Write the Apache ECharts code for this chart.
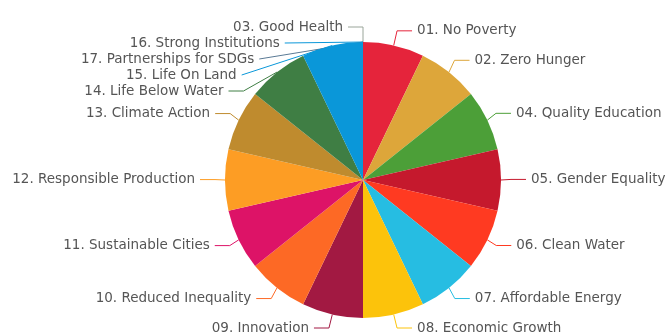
<!DOCTYPE html>
<html>
<head>
<meta charset="utf-8">
<script src="https://cdn.jsdelivr.net/npm/echarts@6/dist/echarts.min.js"></script>
<style>html,body{margin:0;padding:0;background:#fff}#chart{width:669px;height:336px}</style>
</head>
<body>
<div id="chart"></div>
<script>
const categories = [
  '01. No Poverty', '02. Zero Hunger', '04. Quality Education', '05. Gender Equality',
  '06. Clean Water', '07. Affordable Energy', '08. Economic Growth', '09. Innovation',
  '10. Reduced Inequality', '11. Sustainable Cities', '12. Responsible Production',
  '13. Climate Action', '14. Life Below Water', '15. Life On Land',
  '03. Good Health', '16. Strong Institutions', '17. Partnerships for SDGs'
];
const values = [1, 1, 1, 1, 1, 1, 1, 1, 1, 1, 1, 1, 1, 1, 0, 0, 0];
const palette = [
  '#E5243B', '#DDA63A', '#4C9F38', '#C5192D', '#FF3A21', '#26BDE2', '#FCC30B',
  '#A21942', '#FD6925', '#DD1367', '#FD9D24', '#BF8B2E', '#3F7E44', '#0A97D9',
  '#9AA59A', '#0A97D9', '#5A7A95'
];
const chart = echarts.init(document.getElementById('chart'), null, {renderer: 'canvas'});
chart.setOption({
  animation: false,
  color: palette,
  series: [{
    type: 'pie',
    center: [363, 180],
    radius: [0, 138],
    startAngle: 90,
    clockwise: true,
    avoidLabelOverlap: true,
    label: {
      show: true,
      color: '#555',
      fontSize: 13.5,
      lineHeight: 12,
      height: 12,
      overflow: 'none',
      fontFamily: 'DejaVu Sans'
    },
    labelLine: { show: true, length: 15, length2: 15 },
    itemStyle: { borderWidth: 0 },
    data: categories.map((c, i) => ({ name: c, value: values[i] }))
  }]
});
</script>
</body>
</html>
